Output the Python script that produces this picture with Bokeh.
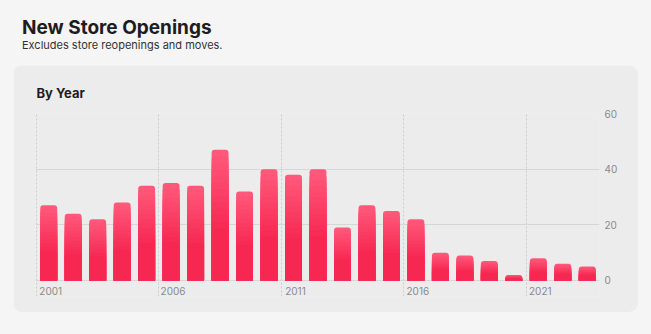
from bokeh.plotting import figure
from bokeh.models import Div, FixedTicker, Range1d, CustomJSTickFormatter
from bokeh.layouts import column
from bokeh.embed import file_html
from bokeh.resources import INLINE

# ---- data ----
years = list(range(2001, 2024))
openings = [27, 24, 22, 28, 34, 35, 34, 47, 32, 40, 38, 40, 19, 27, 25, 22, 10, 9, 7, 2, 8, 6, 5]
x_tick_years = [2001, 2006, 2011, 2016, 2021]
y_ticks = [0, 20, 40, 60]

title_text = "New Store Openings"
subtitle_text = "Excludes store reopenings and moves."
card_title = "By Year"

PAGE_BG = "#f5f5f5"
CARD_BG = "#ececec"
FONT = "Inter"
LABEL_SHIFT = 0.58      # x labels sit to the right of their dashed grid line
Y_PAD_BELOW = -5.75     # lets the dashed grid lines run down past the labels
X_PAD_LEFT = 0.04       # keeps the first dashed grid line inside the frame

header = Div(
    text=(
        f'<div style="position:relative;width:651px;height:65px;font-family:{FONT};">'
        f'<div style="position:absolute;left:22px;top:14px;font-size:19px;font-weight:700;'
        f'color:#1d1d1f;white-space:nowrap;">{title_text}</div>'
        f'<div style="position:absolute;left:22px;top:38px;font-size:11px;'
        f'color:#333333;white-space:nowrap;">{subtitle_text}</div></div>'
    ),
    width=651, height=65, margin=(0, 0, 0, 0),
    styles={"background-color": PAGE_BG},
)

p = figure(
    width=625, height=247,
    x_range=Range1d(years[0] - X_PAD_LEFT, years[-1] + 1),
    y_range=Range1d(Y_PAD_BELOW, y_ticks[-1]),
    output_backend="svg", toolbar_location=None,
    y_axis_location="right",
    min_border_left=22, min_border_right=39, min_border_top=48, min_border_bottom=16,
    margin=(0, 0, 0, 13),
    background_fill_color=CARD_BG, border_fill_color=CARD_BG,
    outline_line_color=None,
    styles={"border-radius": "9px", "overflow": "hidden"},
)

p.title.text = card_title
p.title.text_font = FONT
p.title.text_font_style = "bold"
p.title.text_font_size = "13px"
p.title.text_color = "#1d1d1f"
p.title.align = "left"
p.title.offset = 1
p.title.standoff = 25

# bars with a vertical gradient (lighter at the top)
xs = [y + 0.5 for y in years]
top_rgb = (255, 88, 122)
bot_rgb = (246, 40, 82)
N = 12
for k in range(N + 1):
    t = k / N
    r = round(top_rgb[0] + (bot_rgb[0] - top_rgb[0]) * t)
    g = round(top_rgb[1] + (bot_rgb[1] - top_rgb[1]) * t)
    b = round(top_rgb[2] + (bot_rgb[2] - top_rgb[2]) * t)
    col = "#%02x%02x%02x" % (r, g, b)
    tops = [v * (1 - 0.6 * t) for v in openings]
    p.vbar(x=xs, top=tops, bottom=0, width=0.69, fill_color=col, line_color=None,
           border_radius=(3, 3, 0, 0))

# x axis: labels only, placed just right of the dashed grid lines
p.xaxis.ticker = FixedTicker(ticks=[y + LABEL_SHIFT for y in x_tick_years])
p.xaxis.formatter = CustomJSTickFormatter(code="return String(Math.floor(tick));")
p.xaxis.axis_line_color = None
p.xaxis.major_tick_line_color = None
p.xaxis.major_tick_in = 0
p.xaxis.major_tick_out = 0
p.xaxis.minor_tick_line_color = None
p.xaxis.major_label_standoff = -10
p.xaxis.major_label_text_font = FONT
p.xaxis.major_label_text_font_size = "10px"
p.xaxis.major_label_text_color = "#8a8a8a"

# y axis
p.yaxis.ticker = FixedTicker(ticks=y_ticks)
p.yaxis.axis_line_color = None
p.yaxis.major_tick_line_color = None
p.yaxis.major_tick_in = 0
p.yaxis.major_tick_out = 0
p.yaxis.minor_tick_line_color = None
p.yaxis.major_label_standoff = 5
p.yaxis.major_label_text_font = FONT
p.yaxis.major_label_text_font_size = "10px"
p.yaxis.major_label_text_color = "#8a8a8a"

p.xgrid.ticker = FixedTicker(ticks=x_tick_years)
p.xgrid.grid_line_color = "#cbcbcb"
p.xgrid.grid_line_dash = "2 2"
p.ygrid.ticker = FixedTicker(ticks=y_ticks)
p.ygrid.grid_line_color = "#d6d6d6"

root = column(header, p, width=651, height=334, styles={"background-color": PAGE_BG})

open("out.html", "w").write(file_html(root, INLINE))
